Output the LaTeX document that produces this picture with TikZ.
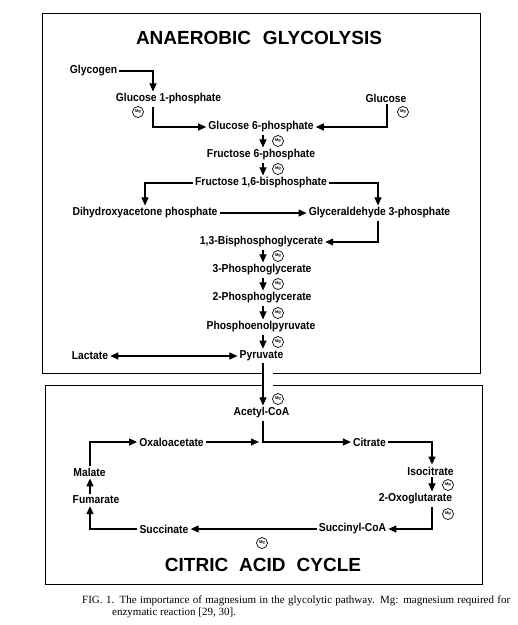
\documentclass[tikz,border=0pt]{standalone}
\usepackage{fontspec}
\setmainfont{Liberation Serif}
\newfontfamily\hvf{Liberation Sans}
\newfontfamily\hvc[FakeStretch=0.9]{Liberation Sans}
\usetikzlibrary{arrows.meta,calc}
\tikzset{
  x=1pt,y=-1pt,
  lbl/.style={font=\hvc\bfseries\fontsize{11.5}{13}\selectfont, inner sep=2pt},
  ttl/.style={font=\hvf\bfseries\fontsize{19}{22}\selectfont, inner sep=0pt},
  mgc/.style={circle, draw, line width=0.7pt, minimum size=11pt, inner sep=0pt, font=\hvf\bfseries\fontsize{4}{4}\selectfont},
  ln/.style={line width=1.1pt},
  arr/.style={ln, -{Triangle[length=8pt,width=7pt]}},
  frame/.style={line width=0.8pt},
}
\begin{document}
\begin{tikzpicture}
\useasboundingbox (0,0) rectangle (518,625);
% frames
\draw[frame] (263,373) -- (42.5,373) -- (42.5,13) -- (480,13) -- (480,373) -- (273,373);
\draw[frame] (262,385) -- (45,385) -- (45,584) -- (482,584) -- (482,385) -- (273,385);
% guide coordinates
\coordinate (sp) at (263,0);
\coordinate (xa) at (153,0);
\coordinate (xb) at (387,0);
\coordinate (xc) at (145,0);
\coordinate (xd) at (378,0);
\coordinate (xe) at (432,0);
\coordinate (xm) at (90,0);
\coordinate (jn) at (263,442);
% titles
\node[ttl] (t1) at (259,38) {ANAEROBIC\hspace{0.35em} GLYCOLYSIS};
\node[ttl] (t2) at (263,565) {CITRIC\hspace{0.3em} ACID\hspace{0.3em} CYCLE};
% glycolysis nodes
\node[lbl] (glycogen) at (93.5,71) {Glycogen};
\node[lbl] (g1p) at (168.5,99) {Glucose 1-phosphate};
\node[lbl] (glucose) at (386,98) {Glucose};
\node[lbl] (g6p) at (261,127) {Glucose 6-phosphate};
\node[lbl] (f6p) at (261,155) {Fructose 6-phosphate};
\node[lbl] (f16) at (261,183) {Fructose 1,6-bisphosphate};
\node[lbl] (dhap) at (145,213) {Dihydroxyacetone phosphate};
\node[lbl] (gap) at (379.5,213) {Glyceraldehyde 3-phosphate};
\node[lbl] (bpg) at (261.5,242) {1,3-Bisphosphoglycerate};
\node[lbl] (pg3) at (262,270) {3-Phosphoglycerate};
\node[lbl] (pg2) at (262,298) {2-Phosphoglycerate};
\node[lbl] (pep) at (261,327) {Phosphoenolpyruvate};
\node[lbl] (pyr) at (261.5,356) {Pyruvate};
\node[lbl] (lac) at (90,356) {Lactate};
% citric acid cycle nodes
\node[lbl] (acoa) at (261.5,413) {Acetyl-CoA};
\node[lbl] (oaa) at (171.5,442) {Oxaloacetate};
\node[lbl] (cit) at (369.5,442) {Citrate};
\node[lbl] (iso) at (430.5,471) {Isocitrate};
\node[lbl] (oxo) at (415.5,499) {2-Oxoglutarate};
\node[lbl] (scoa) at (352.5,529) {Succinyl-CoA};
\node[lbl] (suc) at (164,529) {Succinate};
\node[lbl] (fum) at (96,500) {Fumarate};
\node[lbl] (mal) at (89.5,472) {Malate};
% Mg circles
\node[mgc] (mg1) at (138,112) {Mg};
\node[mgc] (mg2) at (403,112) {Mg};
\node[mgc] (mg3) at (278,141) {Mg};
\node[mgc] (mg4) at (278,169) {Mg};
\node[mgc] (mg5) at (278,256) {Mg};
\node[mgc] (mg6) at (278,284) {Mg};
\node[mgc] (mg7) at (278,313) {Mg};
\node[mgc] (mg8) at (278,342) {Mg};
\node[mgc] (mg9) at (278,399) {Mg};
\node[mgc] (mg10) at (448,485) {Mg};
\node[mgc] (mg11) at (448,514) {Mg};
\node[mgc] (mg12) at (262,543) {Mg};
% glycolysis connectors
\draw[arr] (glycogen.east) -| (xa |- g1p.north);
\draw[arr] (xa |- g1p.south) |- (g6p.west);
\draw[arr] (xb |- glucose.south) |- (g6p.east);
\draw[arr] (sp |- g6p.south) -- (sp |- f6p.north);
\draw[arr] (sp |- f6p.south) -- (sp |- f16.north);
\draw[arr] (f16.west) -| (xc |- dhap.north);
\draw[arr] (f16.east) -| (xd |- gap.north);
\draw[arr] (dhap.east) -- (gap.west);
\draw[arr] (xd |- gap.south) |- (bpg.east);
\draw[arr] (sp |- bpg.south) -- (sp |- pg3.north);
\draw[arr] (sp |- pg3.south) -- (sp |- pg2.north);
\draw[arr] (sp |- pg2.south) -- (sp |- pep.north);
\draw[arr] (sp |- pep.south) -- (sp |- pyr.north);
\draw[ln, {Triangle[length=8pt,width=7pt]}-{Triangle[length=8pt,width=7pt]}] (lac.east) -- (pyr.west);
\draw[arr] (sp |- pyr.south) -- (sp |- acoa.north);
% citric acid cycle connectors
\draw[arr] (sp |- acoa.south) |- (cit.west);
\draw[arr, shorten >=4pt] (oaa.east) -- (jn);
\draw[arr] (xm |- mal.north) |- (oaa.west);
\draw[arr] (cit.east) -| (xe |- iso.north);
\draw[arr] (xe |- iso.south) -- (xe |- oxo.north);
\draw[arr] (xe |- oxo.south) |- (scoa.east);
\draw[arr] (scoa.west) -- (suc.east);
\draw[arr] (suc.west) -| (xm |- fum.south);
\draw[arr] (xm |- fum.north) -- (xm |- mal.south);
% caption
\node[anchor=base west, inner sep=0pt, font=\fontsize{11}{12}\selectfont] (cap1) at (82,603) {\makebox[428pt][s]{FIG. 1. The importance of magnesium in the glycolytic pathway. Mg: magnesium required for}};
\node[anchor=base west, inner sep=0pt, font=\fontsize{11}{12}\selectfont] (cap2) at (112,615) {enzymatic reaction [29, 30].};
\end{tikzpicture}
\end{document}
